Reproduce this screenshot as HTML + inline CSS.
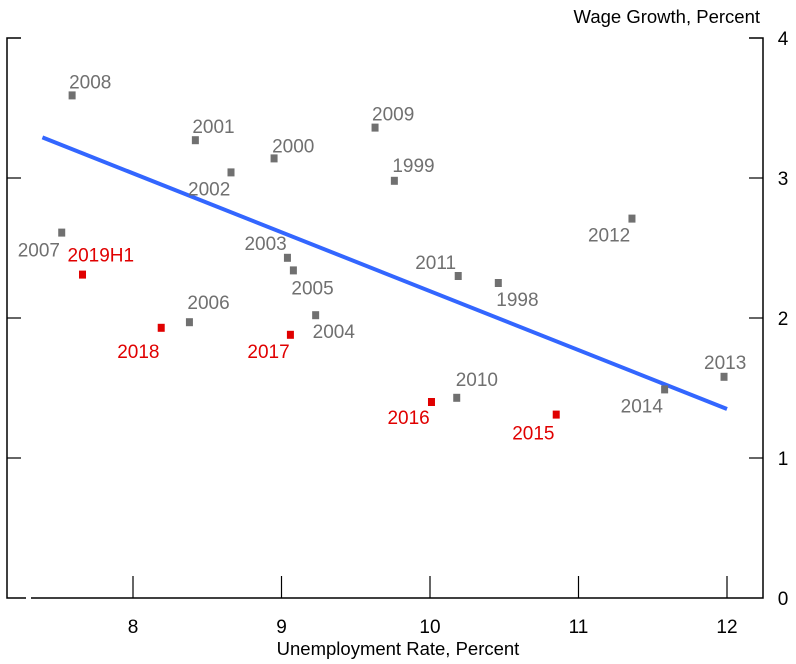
<!DOCTYPE html>
<html><head><meta charset="utf-8"><style>
html,body{margin:0;padding:0;background:#fff;}
svg{display:block;font-family:"Liberation Sans",Arial,sans-serif;}
</style></head><body>
<svg id="chart" width="796" height="664" viewBox="0 0 796 664">
<g id="frame" stroke="#000" stroke-width="1.5" fill="none">
<path d="M21,38 H7 V598 H26"/>
<path d="M31,598 H763 V38 H749"/>
</g>
<g id="xticks"></g>
<g id="yticks"></g>
<text x="760" y="23" font-size="18.5" text-anchor="end" fill="#000">Wage Growth, Percent</text>
<text x="398" y="655" font-size="18.5" text-anchor="middle" fill="#000">Unemployment Rate, Percent</text>
<g id="fit"></g>
<g id="pts"></g>
</svg>
<script>
const years = ["2008","2001","2000","2002","2009","1999","2012","2007","2019H1","2003","2005","2011","1998","2006","2004","2018","2017","2010","2016","2015","2014","2013"];
const unemp = [7.59,8.42,8.95,8.66,9.63,9.76,11.36,7.52,7.66,9.04,9.08,10.19,10.46,8.38,9.23,8.19,9.06,10.18,10.01,10.85,11.58,11.98];
const wage = [3.59,3.27,3.14,3.04,3.36,2.98,2.71,2.61,2.31,2.43,2.34,2.30,2.25,1.97,2.02,1.93,1.88,1.43,1.40,1.31,1.49,1.58];
const recent = [0,0,0,0,0,0,0,0,1,0,0,0,0,0,0,1,1,0,1,1,0,0];
const xTicks = [8,9,10,11,12];
const yTicks = [0,1,2,3,4];
const fitX = [7.39,12.0];
const fitY = [3.29,1.35];
// label offsets (layout, not data)
const lblDx = [-3,-3,-2,-43,-3,-2,-44,-44,-15,-43,-2,-43,-2,-2,-3,-44,-43,-1,-44,-44,-44,-20];
const lblDy = [-7,-7,-6,23,-7,-9,23,24,-13,-8,24,-7,23,-13,23,30,23,-12,22,25,23,-8];

const NS="http://www.w3.org/2000/svg";
function X(v){return 133+(v-8)*148.5;}
function Y(v){return 598-140*v;}
function mk(t,a,p){const e=document.createElementNS(NS,t);for(const k in a)e.setAttribute(k,a[k]);p.appendChild(e);return e;}

const xg=document.getElementById('xticks');
xTicks.forEach(v=>{
  const l=mk('line',{x1:X(v),x2:X(v),y1:576,y2:598,stroke:'#000','stroke-width':1.2},xg);
  
  
  const t=mk('text',{x:X(v),y:633,'font-size':19,'text-anchor':'middle',fill:'#000'},xg);
  t.textContent=v;
  
  
});
const yg=document.getElementById('yticks');
yTicks.forEach(v=>{
  if(v>0&&v<4){
    const l=mk('line',{x1:749,x2:763,y1:Y(v),y2:Y(v),stroke:'#000','stroke-width':1.2},yg);
    
    
    const l2=mk('line',{x1:7,x2:21,y1:Y(v),y2:Y(v),stroke:'#000','stroke-width':1.2},yg);
    
    
  }
  const t=mk('text',{x:783,y:Y(v)+7,'font-size':19,'text-anchor':'middle',fill:'#000'},yg);
  t.textContent=v;
  
  
});
const fg=document.getElementById('fit');
const fl=mk('line',{x1:X(fitX[0]),y1:Y(fitY[0]),x2:X(fitX[1]),y2:Y(fitY[1]),stroke:'#3366ff','stroke-width':4},fg);


const pg=document.getElementById('pts');
years.forEach((yr,i)=>{
  const c=recent[i]?'#e00000':'#707070';
  const px=X(unemp[i]),py=Y(wage[i]);
  const r=mk('rect',{x:px-3.5,y:py-4,width:7,height:8,fill:c},pg);
  
  
  const t=mk('text',{x:px+lblDx[i],y:py+lblDy[i],'font-size':19,fill:c},pg);
  t.textContent=yr;
  
  
});
</script>
</body></html>
